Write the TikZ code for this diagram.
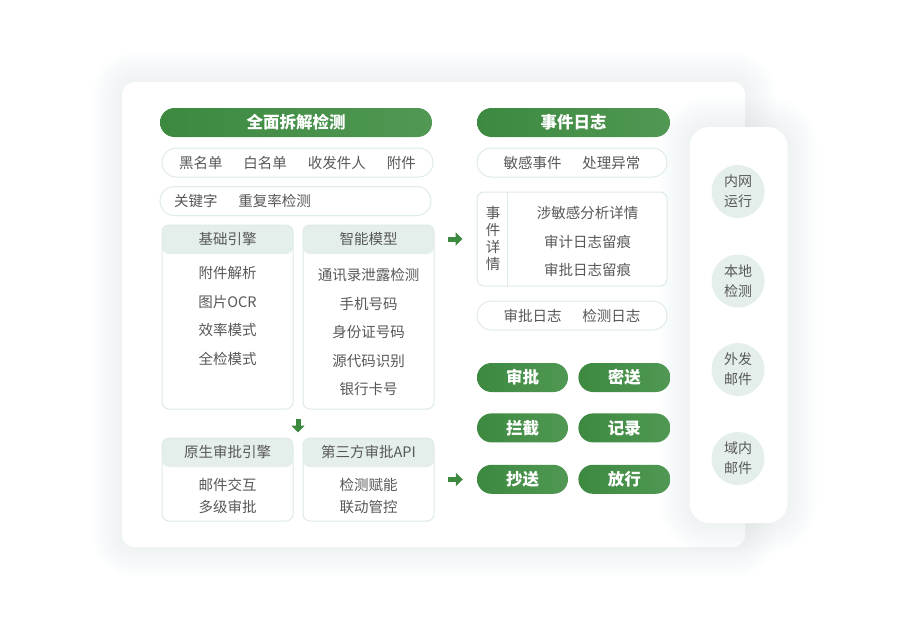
\documentclass[tikz,border=0pt]{standalone}
\usepackage{fontspec}
\setmainfont{Noto Sans CJK SC}
\usetikzlibrary{positioning,calc,arrows.meta}
\definecolor{leafgreen}{RGB}{61,137,64}
\definecolor{leaflight}{RGB}{80,152,83}
\definecolor{mintline}{RGB}{222,235,231}
\definecolor{mintfill}{RGB}{228,239,236}
\definecolor{inkgray}{RGB}{88,88,88}
\definecolor{hazetint}{RGB}{120,160,150}
\newcommand{\bodyfont}{\fontsize{14.5}{17}\selectfont}
\tikzset{
	greenpill/.style={
			rounded corners=14.5pt, left color=leafgreen, middle color=leafgreen, right color=leaflight,
			text=white, font=\fontsize{16.5}{19}\selectfont\bfseries,
			minimum height=29pt, inner sep=0pt},
	tagpill/.style={
			rounded corners=14.5pt, draw=mintline, line width=1pt, fill=white,
			text=inkgray, font=\bodyfont, minimum height=29pt, inner sep=0pt},
	panel/.style={rounded corners=7pt, draw=mintline, line width=1pt, fill=white, inner sep=0pt},
	panelhead/.style={
			path picture={\fill[mintfill] (path picture bounding box.north west)
					rectangle ([yshift=-29pt]path picture bounding box.north east);}},
	headtext/.style={text=inkgray, font=\bodyfont, inner sep=0pt},
	itemtext/.style={text=inkgray, font=\fontsize{14.5}{28.5}\selectfont, align=center, inner sep=0pt},
	spot/.style={circle, fill=mintfill, minimum size=53pt, inner sep=0pt,
			text=inkgray, align=center, font=\fontsize{14}{20}\selectfont},
	flow/.style={leafgreen, line width=5pt, -{Triangle[length=7pt,width=13pt]}},
	card/.style={fill=white, inner sep=0pt},
	haze/.style={fill=hazetint, opacity=0.008}
}

\begin{document}
\begin{tikzpicture}[x=1pt, y=-1pt]
	% page
	\useasboundingbox (0,0) rectangle (911,629);
	\fill[white] (0,0) rectangle (911,629);

	% Main card with soft halo
	\coordinate (boardnw) at (122.5,82);
	\coordinate (boardse) at (745,547);
	\foreach \spread in {2.5,5,...,30}
		\fill[haze, rounded corners=12pt+\spread] ($(boardnw)+(-\spread,-\spread)$) rectangle ($(boardse)+(\spread,\spread)$);
	\node[card, rounded corners=12pt, minimum width=623pt, minimum height=465pt] (board) at (433.5,314.5) {};

	% Side card with soft halo
	\coordinate (sidenw) at (689.5,127);
	\coordinate (sidese) at (787.5,523);
	\foreach \spread in {2.5,5,...,30}
		\fill[haze, rounded corners=20pt+\spread] ($(sidenw)+(-\spread,-\spread)$) rectangle ($(sidese)+(\spread,\spread)$);
	\node[card, rounded corners=20pt, minimum width=98pt, minimum height=396pt] (side) at (738.5,325) {};

	% Left column: detection
	\node[greenpill, minimum width=272pt] (scan) at (296,122.5) {全面拆解检测};
	\node[tagpill, minimum width=271pt] (lists) at (297.5,162.5)
		{黑名单\hspace{21pt}白名单\hspace{21pt}收发件人\hspace{21pt}附件};
	\node[tagpill, minimum width=271pt, text width=243pt, align=left] (words) at (295.5,201)
		{关键字\hspace{21pt}重复率检测};

	\node[panel, panelhead, minimum width=131pt, minimum height=184pt] (base) at (227.5,317) {};
	\node[panel, panelhead, minimum width=131pt, minimum height=184pt] (smart) at (368.5,317) {};
	\node[headtext] (basetitle) at ($(base.north)+(0,14.5)$) {基础引擎};
	\node[headtext] (smarttitle) at ($(smart.north)+(0,14.5)$) {智能模型};
	\node[itemtext] (baseitems) at (227.5,316) {附件解析\\图片OCR\\效率模式\\全检模式};
	\node[itemtext] (smartitems) at (368.5,332) {通讯录泄露检测\\手机号码\\身份证号码\\源代码识别\\银行卡号};

	\node[panel, panelhead, minimum width=131pt, minimum height=83pt] (native) at (227.5,479.5) {};
	\node[panel, panelhead, minimum width=131pt, minimum height=83pt] (api) at (368.5,479.5) {};
	\node[headtext] (nativetitle) at ($(native.north)+(0,14.5)$) {原生审批引擎};
	\node[headtext] (apititle) at ($(api.north)+(0,14.5)$) {第三方审批API};
	\node[itemtext, font=\fontsize{14.5}{22}\selectfont] (nativeitems) at (227.5,496) {邮件交互\\多级审批};
	\node[itemtext, font=\fontsize{14.5}{22}\selectfont] (apiitems) at (368.5,496) {检测赋能\\联动管控};

	% Middle column: logs and actions
	\node[greenpill, minimum width=193pt] (log) at (573.5,122.5) {事件日志};
	\node[tagpill, minimum width=190pt] (events) at (572,162.5) {敏感事件\hspace{21pt}处理异常};
	\node[panel, minimum width=190pt, minimum height=94pt] (detail) at (572,239) {};
	\draw[mintline, line width=1pt] ($(detail.north west)+(31,0)$) -- ($(detail.south west)+(31,0)$);
	\node[itemtext, font=\fontsize{14.5}{17}\selectfont] (detailtitle) at (493,238) {事\\件\\详\\情};
	\node[itemtext] (detailitems) at (587.5,241.5) {涉敏感分析详情\\审计日志留痕\\审批日志留痕};
	\node[tagpill, minimum width=190pt] (logs) at (572,315.5) {审批日志\hspace{21pt}检测日志};

	\node[greenpill, minimum width=91pt] (approve) at (522.5,377.5) {审批};
	\node[greenpill, minimum width=92pt, right=10pt of approve] (bcc) {密送};
	\node[greenpill, minimum width=91pt, below=21pt of approve] (block) {拦截};
	\node[greenpill, minimum width=92pt, right=10pt of block] (record) {记录};
	\node[greenpill, minimum width=91pt, below=22pt of block] (cc) {抄送};
	\node[greenpill, minimum width=92pt, right=10pt of cc] (pass) {放行};

	% Right card: deployment
	\node[spot] (lan) at (738,191.5) {内网\\运行};
	\node[spot] (local) at (738,281) {本地\\检测};
	\node[spot] (outmail) at (738,369.5) {外发\\邮件};
	\node[spot] (inmail) at (738,458.5) {域内\\邮件};

	% Arrows
	\coordinate (gap) at ($(base.south east)!0.5!(smart.south west)$);
	\draw[flow, shorten <=13pt, shorten >=14pt] (smart.east |- detail.west) -- (detail.west);
	\draw[flow, shorten <=13pt, shorten >=14pt] (api.east) -- (api.east -| cc.west);
	\draw[flow, shorten <=9pt, shorten >=5pt] (gap) -- (gap |- native.north);
\end{tikzpicture}
\end{document}
